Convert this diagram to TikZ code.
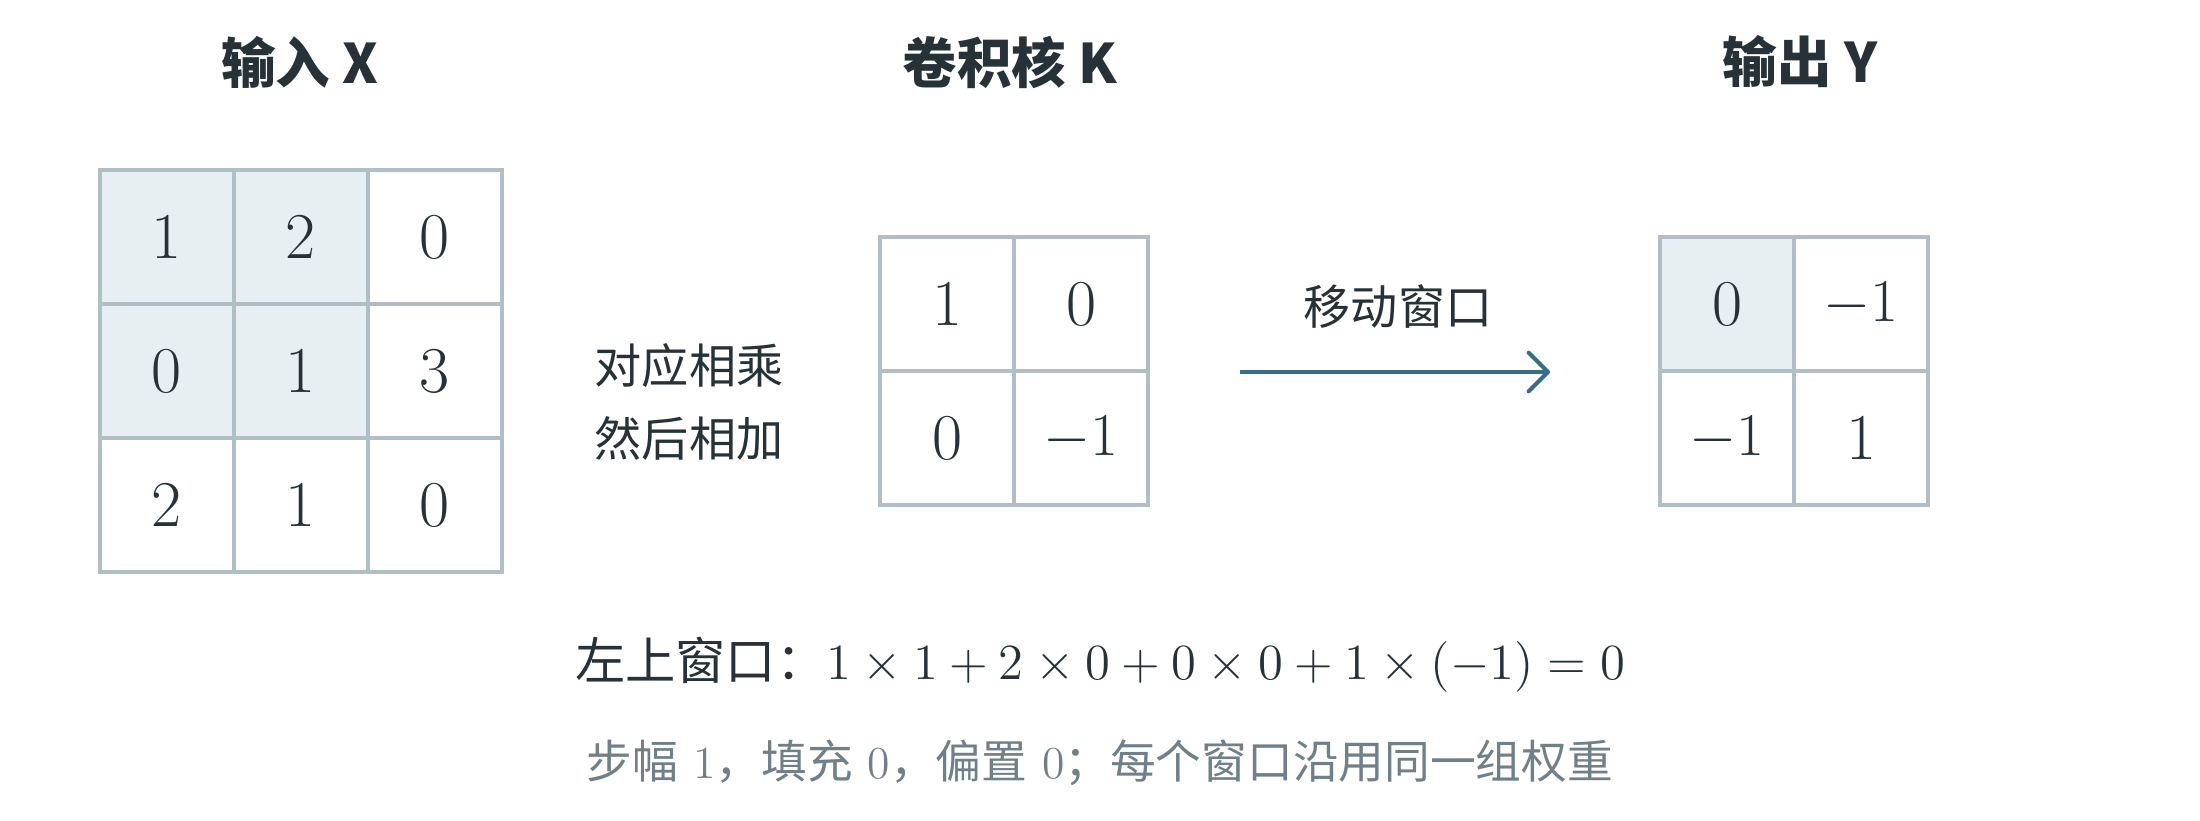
\documentclass[tikz,border=0pt]{standalone}
\usepackage{fontspec}
\newfontfamily\cjk{Noto Sans CJK SC}
\usetikzlibrary{arrows.meta}
\definecolor{ink}{HTML}{263238}
\definecolor{gridc}{HTML}{B0BEC5}
\definecolor{hl}{HTML}{E8EFF2}
\definecolor{arrowc}{HTML}{3A6E86}
\definecolor{note}{HTML}{6F8089}
\newcommand\zh[1]{{\cjk #1}}
\tikzset{
  cell/.style={draw=gridc, line width=1.14pt, minimum size=1.34cm, inner sep=0pt,
    text=ink, font=\fontsize{18.6}{20}\selectfont},
  hlcell/.style={cell, fill=hl},
  title/.style={text=ink, font=\cjk\bfseries\fontsize{15.5}{18}\selectfont, inner sep=0pt},
  body/.style={text=ink, font=\cjk\fontsize{13.4}{16}\selectfont, inner sep=0pt},
  formula/.style={text=ink, font=\fontsize{14.3}{17}\selectfont, inner sep=0pt},
  note/.style={text=note, font=\fontsize{13}{16}\selectfont, inner sep=0pt},
  flow/.style={draw=arrowc, line width=1.14pt, -{Straight Barb[length=5.5pt, width=11pt, line cap=round, line join=round]}}
}
\begin{document}
\begin{tikzpicture}[x=0.01cm, y=-0.01cm]
\useasboundingbox (0,0) rectangle (2200,820);
% titles
\node[title] (tX) at (300,62) {输入 X};
\node[title] (tK) at (1010,62) {卷积核 K};
\node[title] (tY) at (1800,62) {输出 Y};
% input X
\node[hlcell] (x11) at (167,237) {1};
\node[hlcell] (x12) at (301,237) {2};
\node[cell]   (x13) at (435,237) {0};
\node[hlcell] (x21) at (167,371) {0};
\node[hlcell] (x22) at (301,371) {1};
\node[cell]   (x23) at (435,371) {3};
\node[cell]   (x31) at (167,505) {2};
\node[cell]   (x32) at (301,505) {1};
\node[cell]   (x33) at (435,505) {0};
% text
\node[body] (m1) at (689,366) {对应相乘};
\node[body] (m2) at (689,438) {然后相加};
% kernel K
\node[cell] (k11) at (947,304) {1};
\node[cell] (k12) at (1081,304) {0};
\node[cell] (k21) at (947,438) {0};
\node[cell] (k22) at (1081,438) {$-1$};
% arrow
\node[body] (mv) at (1398,307) {移动窗口};
\coordinate (a1) at (1240,372);
\coordinate (a2) at (1550,372);
\draw[flow] (a1) -- (a2);
% output Y
\node[hlcell] (y11) at (1727,304) {0};
\node[cell]   (y12) at (1861,304) {$-1$};
\node[cell]   (y21) at (1727,438) {$-1$};
\node[cell]   (y22) at (1861,438) {1};
% formula
\node[formula] (fm) at (1100,665) {\zh{左上窗口：}$1\times1+2\times0+0\times0+1\times(-1)=0$};
\node[note] (nt) at (1100,763) {\zh{步幅} 1\zh{，填充} 0\zh{，偏置} 0\zh{；每个窗口沿用同一组权重}};
\end{tikzpicture}
\end{document}
